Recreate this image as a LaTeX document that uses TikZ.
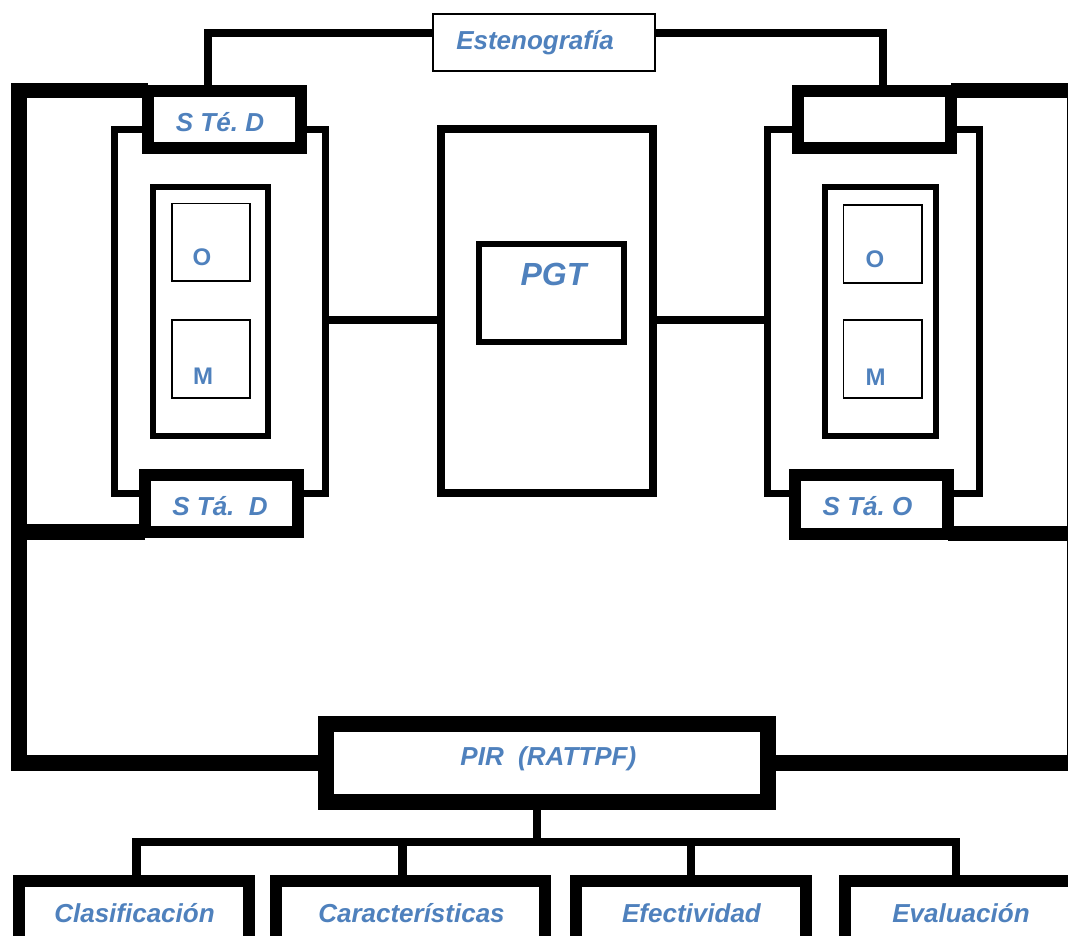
\documentclass[tikz,border=0pt]{standalone}
\usepackage{fontspec}
\setmainfont{Liberation Sans}
\usetikzlibrary{calc}
\definecolor{txtblue}{RGB}{79,129,189}
\pgfdeclarelayer{bgzero}
\pgfdeclarelayer{background}
\pgfsetlayers{bgzero,background,main}
\begin{document}
\begin{tikzpicture}[x=1pt,y=-1pt,
  box/.style={draw=black, fill=white, inner sep=0pt, outer sep=0pt, line join=miter},
  lbl/.style={text=txtblue, font=\fontsize{26}{30}\selectfont\bfseries\itshape\frenchspacing, inner sep=0pt, anchor=base},
  biglbl/.style={text=txtblue, font=\fontsize{32}{36}\selectfont\bfseries\itshape, inner sep=0pt, anchor=base},
  omlbl/.style={text=txtblue, font=\fontsize{24}{28}\selectfont\bfseries, inner sep=0pt, anchor=base},
  conn/.style={draw=black, line join=miter, line cap=butt}]
\useasboundingbox (0,0) rectangle (1068,935);
\begin{pgfonlayer}{bgzero}
\fill[white] (0,0) rectangle (1068,935);
\end{pgfonlayer}

% medium frames
\node[box, line width=7pt, minimum width=211pt, minimum height=364pt] (lframe) at (220,311) {};
\node[box, line width=7pt, minimum width=212pt, minimum height=364.5pt] (rframe) at (873,311.25) {};

% top box
\node[box, line width=2pt, minimum width=222pt, minimum height=57pt] (est) at (544,42.5) {};
\node[lbl] (estT) at (535,49) {Estenografía};

% S boxes
\node[box, line width=12pt, minimum width=153pt, minimum height=57.5pt] (ste) at (224,119.25) {};
\node[lbl] (steT) at (220,131) {S Té. D};
\node[box, line width=12pt, minimum width=153.5pt, minimum height=57.5pt] (str) at (874.25,119.25) {};
\node[box, line width=12pt, minimum width=153.5pt, minimum height=57pt] (stad) at (221.25,503.5) {};
\node[lbl] (stadT) at (220,515) {S Tá.\ \ D};
\node[box, line width=12pt, minimum width=153.5pt, minimum height=58.5pt] (stao) at (871.25,504.25) {};
\node[lbl] (staoT) at (867.5,515) {S Tá. O};

% inner containers
\node[box, line width=6pt, minimum width=115pt, minimum height=249pt] (lin) at (210.5,311.5) {};
\node[box, line width=6pt, minimum width=110.5pt, minimum height=249pt] (rin) at (880.25,311.5) {};

% O / M boxes
\node[box, line width=1.6pt, minimum width=78pt, minimum height=77.7pt] (lO) at (211,242.15) {};
\node[box, line width=1.6pt, minimum width=78pt, minimum height=77.7pt] (lM) at (211,358.85) {};
\node[box, line width=1.6pt, minimum width=78.4pt, minimum height=77.7pt] (rO) at (882.5,243.85) {};
\node[box, line width=1.6pt, minimum width=78.4pt, minimum height=77.7pt] (rM) at (882.5,358.85) {};
\node[omlbl] (lOT) at (202,265.5) {O};
\node[omlbl] (lMT) at (203,384) {M};
\node[omlbl] (rOT) at (875,267) {O};
\node[omlbl] (rMT) at (875.5,385) {M};

% PGT
\node[box, line width=8pt, minimum width=211.5pt, minimum height=364pt] (pgt) at (546.75,311) {};
\node[box, line width=6pt, minimum width=145pt, minimum height=97.5pt] (pgti) at (551.5,292.75) {};
\node[biglbl] (pgtT) at (553.5,285.7) {PGT};

% PIR
\node[box, line width=16pt, minimum width=442pt, minimum height=78pt] (pir) at (546.6,763) {};
\node[lbl] (pirT) at (548.3,765) {PIR\ \ (RATTPF)};

% bottom boxes
\node[box, line width=12pt, minimum width=230pt, minimum height=69pt] (clas) at (133.75,915.5) {};
\node[box, line width=12pt, minimum width=269pt, minimum height=69pt] (car) at (410.5,915.5) {};
\node[box, line width=12pt, minimum width=230.4pt, minimum height=69pt] (efe) at (690.8,915.5) {};
\node[box, line width=12pt, minimum width=245.4pt, minimum height=69pt] (eva) at (967.3,915.5) {};
\node[lbl] (clasT) at (134.5,922) {Clasificación};
\node[lbl] (carT) at (411.5,922) {Características};
\node[lbl] (efeT) at (691.5,922) {Efectividad};
\node[lbl] (evaT) at (961,922) {Evaluación};

% connectors
\begin{pgfonlayer}{background}
\draw[conn, line width=7.5pt] ($(est.north west)!0.333!(est.south west)$) -| ($(ste.north west)!0.395!(ste.north east)$);
\draw[conn, line width=7.5pt] ($(est.north east)!0.333!(est.south east)$) -| ($(str.north west)!0.557!(str.north east)$);

\coordinate (lc) at (18.75,0);
\coordinate (rc) at (1074.5,0);
\draw[conn, line width=15.5pt] (ste.north west) -- (ste.north west -| lc) -- (pir.west -| lc) -- (pir.west);
\draw[conn, line width=15.5pt] (stad.south west) -- (stad.south west -| lc);
\draw[conn, line width=15.5pt] (str.north east) -- (str.north east -| rc) -- (pir.east -| rc) -- (pir.east);
\draw[conn, line width=15.5pt] (stao.south east) -- (stao.south east -| rc);

\coordinate (pl) at ($(lframe.north east)!0.525!(lframe.south east)$);
\coordinate (pr) at ($(rframe.north west)!0.525!(rframe.south west)$);
\draw[conn, line width=8pt] (pl) -- (pl -| pgt.west);
\draw[conn, line width=8pt] (pr) -- (pr -| pgt.east);

\coordinate (stem) at ($(pir.south west)!0.4785!(pir.south east)$);
\coordinate (bus) at ($(stem)+(0,40)$);
\coordinate (c1) at ($(clas.north west)!0.512!(clas.north east)$);
\coordinate (c2) at ($(car.north west)!0.47!(car.north east)$);
\coordinate (c3) at (efe.north);
\coordinate (c4) at ($(eva.north west)!0.454!(eva.north east)$);
\draw[conn, line width=8.5pt] (stem) -- (bus);
\draw[conn, line width=8.5pt] (c1) |- (bus) -| (c4);
\draw[conn, line width=8.5pt] (c2) -- (c2 |- bus);
\draw[conn, line width=8.5pt] (c3) -- (c3 |- bus);
\end{pgfonlayer}
\end{tikzpicture}
\end{document}
